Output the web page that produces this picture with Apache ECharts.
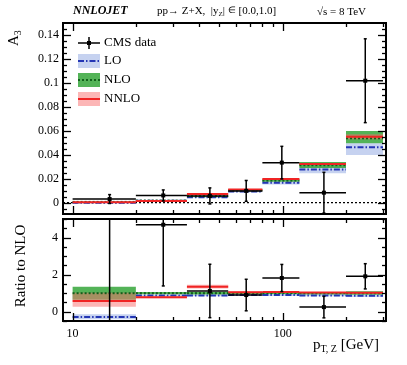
<!DOCTYPE html>
<html>
<head>
<meta charset="utf-8">
<title>A3 NNLOJET</title>
<script src="https://cdn.jsdelivr.net/npm/echarts@6/dist/echarts.min.js"></script>
<style>
body{margin:0;background:#fff;}
#main{width:407px;height:365px;}
</style>
</head>
<body>
<div id="main"></div>
<script>
// pT bins [GeV]
var binLo = [10, 20, 35, 55, 80, 120, 200];
var binHi = [20, 35, 55, 80, 120, 200, 300];

// CMS data, A3
var cmsX = [15, 27, 45, 67, 99, 157, 247];
var cmsA3 = [0.003, 0.006, 0.0056, 0.0098, 0.0334, 0.0083, 0.1018];
var cmsErr = [0.0037, 0.0046, 0.0067, 0.0087, 0.0136, 0.017, 0.035];

// theory A3: central, band low, band high
var loA3 = [-0.0002, 0.0015, 0.0045, 0.0093, 0.0166, 0.0276, 0.0462];
var loA3Low = [-0.0004, 0.0012, 0.0040, 0.0086, 0.0152, 0.0245, 0.0398];
var loA3High = [0.0000, 0.0017, 0.0048, 0.0098, 0.0175, 0.0300, 0.0496];
var nloA3 = [0.0006, 0.0017, 0.0053, 0.0103, 0.0184, 0.0312, 0.0537];
var nloA3Low = [0.0004, 0.0015, 0.0049, 0.0098, 0.0175, 0.0290, 0.0496];
var nloA3High = [0.0008, 0.0019, 0.0057, 0.0108, 0.0193, 0.0340, 0.0598];
var nnloA3 = [0.00035, 0.0014, 0.0071, 0.0110, 0.0197, 0.0322, 0.0550];
var nnloA3Low = [0.0002, 0.0012, 0.0066, 0.0106, 0.0192, 0.0315, 0.0530];
var nnloA3High = [0.0006, 0.0016, 0.0075, 0.0114, 0.0202, 0.0330, 0.0572];

// ratio to NLO
var cmsRatio = [6.5, 4.69, 1.12, 0.90, 1.82, 0.25, 1.91];
var cmsRatioErr = [8, 3.3, 1.44, 0.85, 0.73, 0.58, 0.68];
var loR = [-0.29, 0.88, 0.88, 0.90, 0.90, 0.88, 0.86];
var loRLow = [-0.40, 0.84, 0.84, 0.86, 0.85, 0.83, 0.80];
var loRHigh = [-0.14, 0.92, 0.92, 0.94, 0.95, 0.93, 0.92];
var nloR = [1, 1, 1, 1, 1, 1, 1];
var nloRLow = [0.65, 0.94, 0.93, 0.95, 0.95, 0.93, 0.92];
var nloRHigh = [1.35, 1.06, 1.07, 1.05, 1.05, 1.07, 1.11];
var nnloR = [0.58, 0.78, 1.35, 1.05, 1.06, 1.04, 1.02];
var nnloRLow = [0.27, 0.72, 1.25, 1.00, 1.03, 1.01, 0.99];
var nnloRHigh = [1.03, 0.84, 1.45, 1.10, 1.09, 1.07, 1.06];

// ticks
var xTicks = [10, 20, 30, 40, 50, 60, 70, 80, 90, 100, 200, 300];
var xLabels = [10, 100];
var topYLabels = [0, 0.02, 0.04, 0.06, 0.08, 0.1, 0.12, 0.14];
var topYMinor = [-0.005, 0.005, 0.01, 0.015, 0.025, 0.03, 0.035, 0.045, 0.05, 0.055, 0.065, 0.07, 0.075, 0.085, 0.09, 0.095, 0.105, 0.11, 0.115, 0.125, 0.13, 0.135, 0.145];
var botYLabels = [0, 2, 4];
var botYMinor = [-0.5, 0.5, 1, 1.5, 2.5, 3, 3.5, 4.5, 5];

var FONT = 'Liberation Serif';
var C_LO_BAND = '#c6d2f0', C_LO = '#2436b4';
var C_NLO_BAND = 'rgba(40,160,45,0.8)', C_NLO = '#11601a';
var C_NNLO_BAND = 'rgba(250,110,110,0.5)', C_NNLO = '#f02424';

var chart = echarts.init(document.getElementById('main'));

function bandData(lo, hi){ return binLo.map(function(b, i){ return [b, binHi[i], lo[i], hi[i]]; }); }
function lineData(c){ return binLo.map(function(b, i){ return [b, binHi[i], c[i]]; }); }
function pointData(v, e){ return cmsX.map(function(x, i){ return [x, v[i], e[i], binLo[i], binHi[i]]; }); }

function renderBand(color){
  return function(params, api){
    var p1 = api.coord([api.value(0), api.value(3)]);
    var p2 = api.coord([api.value(1), api.value(2)]);
    return {type: 'rect', shape: {x: p1[0], y: p1[1], width: p2[0] - p1[0], height: p2[1] - p1[1]}, style: {fill: color}};
  };
}
function renderLine(color, dash, width){
  return function(params, api){
    var p1 = api.coord([api.value(0), api.value(2)]);
    var p2 = api.coord([api.value(1), api.value(2)]);
    return {type: 'line', shape: {x1: p1[0], y1: p1[1], x2: p2[0], y2: p2[1]}, style: {stroke: color, lineWidth: width, lineDash: dash}};
  };
}
function renderPoint(params, api){
  var x = api.value(0), y = api.value(1), e = api.value(2);
  var c = api.coord([x, y]);
  var t = api.coord([x, y + e]);
  var b = api.coord([x, y - e]);
  var l = api.coord([api.value(3), y]);
  var r = api.coord([api.value(4), y]);
  var st = {stroke: '#000', lineWidth: 1.5};
  return {type: 'group', children: [
    {type: 'line', shape: {x1: l[0], y1: c[1], x2: r[0], y2: c[1]}, style: st},
    {type: 'line', shape: {x1: c[0], y1: t[1], x2: c[0], y2: b[1]}, style: st},
    {type: 'line', shape: {x1: c[0] - 1.5, y1: t[1], x2: c[0] + 1.5, y2: t[1]}, style: st},
    {type: 'line', shape: {x1: c[0] - 1.5, y1: b[1], x2: c[0] + 1.5, y2: b[1]}, style: st},
    {type: 'rect', shape: {x: c[0] - 2, y: c[1] - 2, width: 4, height: 4}, style: {fill: '#000'}}
  ]};
}
function renderTicks(yMaj, yMin, yRef){
  return function(params, api){
    var cs = params.coordSys, ch = [];
    var st = {stroke: '#000', lineWidth: 1.3};
    xTicks.forEach(function(v){
      var px = Math.round(api.coord([v, yRef])[0]) + 0.5;
      var len = (v === 10 || v === 100) ? 8 : 4;
      ch.push({type: 'line', shape: {x1: px, y1: cs.y, x2: px, y2: cs.y + len}, style: st});
      ch.push({type: 'line', shape: {x1: px, y1: cs.y + cs.height, x2: px, y2: cs.y + cs.height - len}, style: st});
    });
    function yt(v, len){
      var py = Math.round(api.coord([10, v])[1]) + 0.5;
      ch.push({type: 'line', shape: {x1: cs.x, y1: py, x2: cs.x + len, y2: py}, style: st});
      ch.push({type: 'line', shape: {x1: cs.x + cs.width, y1: py, x2: cs.x + cs.width - len, y2: py}, style: st});
    }
    yMaj.forEach(function(v){ yt(v, 8); });
    yMin.forEach(function(v){ yt(v, 4); });
    return {type: 'group', children: ch};
  };
}
function renderZero(params, api){
  var cs = params.coordSys;
  var py = api.coord([10, 0])[1];
  return {type: 'line', shape: {x1: cs.x, y1: py, x2: cs.x + cs.width, y2: py}, style: {stroke: '#000', lineWidth: 1.2, lineDash: [2, 2]}};
}

function custom(idx, data, render, z, clip){
  return {type: 'custom', xAxisIndex: idx, yAxisIndex: idx, data: data, renderItem: render, z: z, clip: clip !== false, silent: true, animation: false};
}

// text runs with sub/superscripts measured on a canvas
var mctx = document.createElement('canvas').getContext('2d');
function run(x, y, parts){
  var out = [];
  parts.forEach(function(p){
    var weight = p[3] || 'normal', style = p[4] || 'normal';
    mctx.font = style + ' ' + weight + ' ' + p[1] + 'px "' + FONT + '"';
    out.push({type: 'text', x: x, y: y + p[2], style: {text: p[0], fontFamily: FONT, fontSize: p[1], fontWeight: weight, fontStyle: style, fill: '#000', verticalAlign: 'middle'}});
    x += mctx.measureText(p[0]).width;
  });
  return out;
}

var graphics = [];
graphics = graphics.concat(run(73, 11, [['NNLOJET', 12, 0, 'bold', 'italic']]));
graphics = graphics.concat(run(157, 11, [['pp\u2192 Z+X,  |y', 11, 0], ['Z', 7, 3], ['| ', 11, 0], ['\u2208', 9, 0], [' [0.0,1.0]', 11, 0]]));
graphics = graphics.concat(run(317, 12, [['\u221As = 8 TeV', 11, 0]]));
graphics = graphics.concat(run(313, 345, [['p', 15, 0], ['T, Z', 10, 4], [' [GeV]', 15, 0]]));
graphics.push({type: 'group', x: 14, y: 46, rotation: Math.PI / 2, children: run(0, 0, [['A', 15, 0], ['3', 10, 4]])});
graphics.push({type: 'text', x: 21, y: 266, rotation: Math.PI / 2, style: {text: 'Ratio to NLO', fontFamily: FONT, fontSize: 15, fill: '#000', align: 'center', verticalAlign: 'middle'}});

// legend
var legRows = [43, 61, 80, 99];
graphics.push({type: 'line', shape: {x1: 78, y1: legRows[0], x2: 100, y2: legRows[0]}, style: {stroke: '#000', lineWidth: 1.5}});
graphics.push({type: 'line', shape: {x1: 89, y1: legRows[0] - 6, x2: 89, y2: legRows[0] + 6}, style: {stroke: '#000', lineWidth: 1.5}});
graphics.push({type: 'rect', shape: {x: 87, y: legRows[0] - 2, width: 4, height: 4}, style: {fill: '#000'}});
[[C_LO_BAND, C_LO, [6, 2, 1.5, 2]], [C_NLO_BAND, C_NLO, [2, 2]], [C_NNLO_BAND, C_NNLO, null]].forEach(function(s, i){
  var y = legRows[i + 1];
  graphics.push({type: 'rect', shape: {x: 78, y: y - 7, width: 22, height: 14}, style: {fill: s[0]}});
  graphics.push({type: 'line', shape: {x1: 78, y1: y, x2: 100, y2: y}, style: {stroke: s[1], lineWidth: 2, lineDash: s[2]}});
});
['CMS data', 'LO', 'NLO', 'NNLO'].forEach(function(t, i){
  graphics.push({type: 'text', x: 104, y: legRows[i], style: {text: t, fontFamily: FONT, fontSize: 13, fill: '#000', verticalAlign: 'middle'}});
});

var labelStyle = {fontFamily: FONT, fontSize: 12, color: '#000'};

var option = {
  animation: false,
  backgroundColor: '#fff',
  grid: [
    {left: 63, right: 21, top: 23, height: 191, show: true, borderColor: '#000', borderWidth: 2, backgroundColor: 'transparent'},
    {left: 63, right: 21, top: 219, height: 102, show: true, borderColor: '#000', borderWidth: 2, backgroundColor: 'transparent'}
  ],
  xAxis: [
    {type: 'log', logBase: 10, gridIndex: 0, min: 9, max: 310, axisLine: {show: false}, axisTick: {show: false}, axisLabel: {show: false}, splitLine: {show: false}},
    {type: 'log', logBase: 10, gridIndex: 1, min: 9, max: 310, axisLine: {show: false}, axisTick: {show: false}, splitLine: {show: false},
      axisLabel: Object.assign({customValues: xLabels, margin: 7, formatter: function(v){ return String(Math.round(v)); }}, labelStyle)}
  ],
  yAxis: [
    {type: 'value', gridIndex: 0, min: -0.0095, max: 0.15, axisLine: {show: false}, axisTick: {show: false}, splitLine: {show: false},
      axisLabel: Object.assign({customValues: topYLabels, margin: 4, formatter: function(v){ return String(+v.toFixed(3)); }}, labelStyle)},
    {type: 'value', gridIndex: 1, min: -0.5, max: 5, axisLine: {show: false}, axisTick: {show: false}, splitLine: {show: false},
      axisLabel: Object.assign({customValues: botYLabels, margin: 5}, labelStyle)}
  ],
  graphic: graphics,
  series: [
    custom(0, bandData(loA3Low, loA3High), renderBand(C_LO_BAND), 1),
    custom(0, bandData(nloA3Low, nloA3High), renderBand(C_NLO_BAND), 2),
    custom(0, bandData(nnloA3Low, nnloA3High), renderBand(C_NNLO_BAND), 3),
    custom(0, [[10, 0]], renderZero, 4),
    custom(0, lineData(loA3), renderLine(C_LO, [6, 2, 1.5, 2], 2), 5),
    custom(0, lineData(nloA3), renderLine(C_NLO, [2, 2], 2), 5),
    custom(0, lineData(nnloA3), renderLine(C_NNLO, null, 2), 5),
    custom(0, pointData(cmsA3, cmsErr), renderPoint, 6),
    custom(0, [[10, 0]], renderTicks(topYLabels, topYMinor, 0), 7, false),

    custom(1, bandData(loRLow, loRHigh), renderBand(C_LO_BAND), 1),
    custom(1, bandData(nloRLow, nloRHigh), renderBand(C_NLO_BAND), 2),
    custom(1, bandData(nnloRLow, nnloRHigh), renderBand(C_NNLO_BAND), 3),
    custom(1, lineData(loR), renderLine(C_LO, [6, 2, 1.5, 2], 2), 5),
    custom(1, lineData(nloR), renderLine(C_NLO, [2, 2], 2), 5),
    custom(1, lineData(nnloR), renderLine(C_NNLO, null, 2), 5),
    custom(1, pointData(cmsRatio, cmsRatioErr), renderPoint, 6),
    custom(1, [[10, 1]], renderTicks(botYLabels, botYMinor, 1), 7, false)
  ]
};
chart.setOption(option);
</script>
</body>
</html>
